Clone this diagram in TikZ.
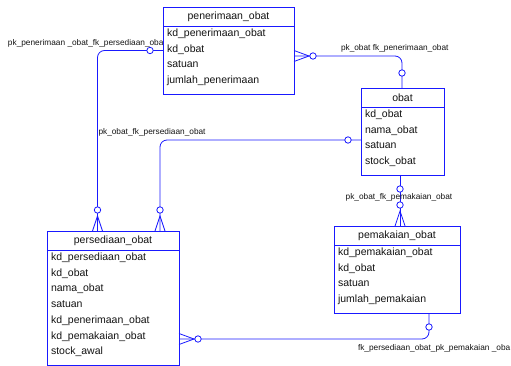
\documentclass[tikz,border=0pt]{standalone}
\usepackage{fontspec}
\setmainfont{Liberation Sans}
\definecolor{ErdBlue}{RGB}{25, 25, 255}
\definecolor{ErdText}{RGB}{20, 20, 20}
\usetikzlibrary{positioning, calc}

\begin{document}
\begin{tikzpicture}[x=1pt, y=-1pt, line width=0.8pt,
    every node/.style={font=\fontsize{10.5}{12}\selectfont, text=ErdText, inner sep=0pt, outer sep=0pt},
    tabel/.style 2 args={draw=ErdBlue, fill=white, anchor=north west, minimum width=#1, minimum height=#2},
    kolom/.style={anchor=west, text height=7.5pt, text depth=2.5pt},
    relasi/.style={draw=ErdBlue, rounded corners=7pt},
    bulat/.style={draw=ErdBlue, fill=white},
    label/.style={font=\fontsize{8.3}{9}\selectfont, anchor=west}]
    \useasboundingbox (0,0) rectangle (511,366);

    % label under the table
    \node[label] (lbl1) at (8,43) {pk\_penerimaan \_obat\_fk\_persediaan\_obat};

    % tables
    \node[tabel={131pt}{87pt}] (penerimaan) at (163,7) {};
    \node[tabel={83pt}{87pt}] (obat) at (361,88) {};
    \node[tabel={126pt}{87pt}] (pemakaian) at (334,226) {};
    \node[tabel={132pt}{134pt}] (persediaan) at (47,231) {};

    \foreach \t in {penerimaan, obat, pemakaian, persediaan}
        \draw[ErdBlue] ($(\t.north west)+(0,19)$) -- ($(\t.north east)+(0,19)$);

    \node (penerimaan-judul) at ($(penerimaan.north)+(0,9.5)$) {penerimaan\_obat};
    \node (obat-judul) at ($(obat.north)+(0,9.5)$) {obat};
    \node (pemakaian-judul) at ($(pemakaian.north)+(0,9.5)$) {pemakaian\_obat};
    \node (persediaan-judul) at ($(persediaan.north)+(0,9.5)$) {persediaan\_obat};

    \foreach \isi [count=\i from 0] in {kd\_penerimaan\_obat, kd\_obat, satuan, jumlah\_penerimaan}
        \node[kolom] (penerimaan-\i) at ($(penerimaan.north west)+(4,27+15.7*\i)$) {\isi};
    \foreach \isi [count=\i from 0] in {kd\_obat, nama\_obat, satuan, stock\_obat}
        \node[kolom] (obat-\i) at ($(obat.north west)+(4,27+15.7*\i)$) {\isi};
    \foreach \isi [count=\i from 0] in {kd\_pemakaian\_obat, kd\_obat, satuan, jumlah\_pemakaian}
        \node[kolom] (pemakaian-\i) at ($(pemakaian.north west)+(4,27+15.7*\i)$) {\isi};
    \foreach \isi [count=\i from 0] in {kd\_persediaan\_obat, kd\_obat, nama\_obat, satuan, kd\_penerimaan\_obat, kd\_pemakaian\_obat, stock\_awal}
        \node[kolom] (persediaan-\i) at ($(persediaan.north west)+(4,27+15.7*\i)$) {\isi};

    % ends of the relations
    \coordinate (a1) at ($(penerimaan.north west)+(0,43.5)$);
    \coordinate (b1) at ($(persediaan.north west)+(50.5,0)$);
    \coordinate (a2) at ($(obat.north west)+(41,0)$);
    \coordinate (b2) at ($(penerimaan.north east)+(0,49)$);
    \coordinate (a3) at ($(obat.north west)+(0,52)$);
    \coordinate (b3) at ($(persediaan.north west)+(113,0)$);
    \coordinate (a4) at ($(obat.south west)+(39,0)$);
    \coordinate (b4) at ($(pemakaian.north west)+(66,0)$);
    \coordinate (a5) at ($(pemakaian.south west)+(95,0)$);
    \coordinate (b5) at ($(persediaan.north east)+(0,108)$);

    \draw[relasi] (a1) -| (b1);
    \draw[relasi] (a2) |- (b2);
    \draw[relasi] (a3) -| (b3);
    \draw[relasi] (a4) -- (b4);
    \draw[relasi] (a5) |- (b5);

    % crow's feet
    \foreach \k in {b1, b3, b4}
        \draw[ErdBlue] ($(\k)+(-5,0)$) -- ($(\k)+(0,-15)$) -- ($(\k)+(5,0)$);
    \foreach \k in {b2, b5}
        \draw[ErdBlue] ($(\k)+(0,-5.5)$) -- ($(\k)+(15,0)$) -- ($(\k)+(0,5.5)$);

    % circles
    \foreach \k in {b1, b3, b4}
        \draw[bulat] ($(\k)+(0,-21)$) circle (3.2pt);
    \foreach \k in {b2, b5}
        \draw[bulat] ($(\k)+(19,0)$) circle (3.2pt);
    \draw[bulat] ($(a1)+(-13,0)$) circle (3.2pt);
    \draw[bulat] ($(a2)+(0,-15)$) circle (3.2pt);
    \draw[bulat] ($(a3)+(-13,0)$) circle (3.2pt);
    \draw[bulat] ($(a4)+(0,14)$) circle (3.2pt);
    \draw[bulat] ($(a5)+(0,14)$) circle (3.2pt);

    % labels
    \node[label] (lbl2) at (341,48) {pk\_obat fk\_penerimaan\_obat};
    \node[label] (lbl3) at (98.5,132) {pk\_obat\_fk\_persediaan\_obat};
    \node[label, anchor=center] (lbl4) at (399,197) {pk\_obat\_fk\_pemakaian\_obat};
    \node[label] (lbl5) at (358,348) {fk\_persediaan\_obat\_pk\_pemakaian \_oba};
\end{tikzpicture}
\end{document}
